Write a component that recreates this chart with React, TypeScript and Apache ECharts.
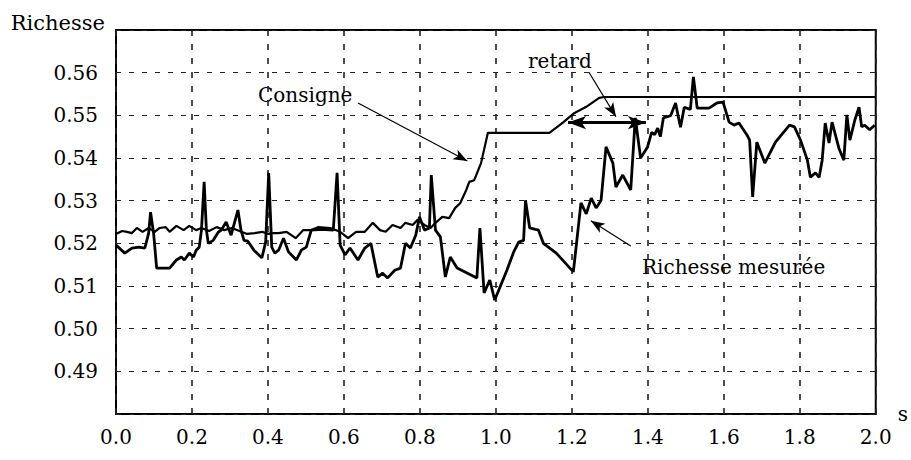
import React, { useEffect, useRef } from 'react';
import * as echarts from 'echarts';

// Measured richness (Richesse mesurée): time (s) and value
const measuredT = [
  0.000, 0.023, 0.042, 0.060, 0.076, 0.086, 0.091, 0.099, 0.107, 0.141,
  0.159, 0.172, 0.180, 0.193, 0.204, 0.211, 0.219, 0.225, 0.232, 0.238,
  0.243, 0.256, 0.269, 0.277, 0.290, 0.303, 0.321, 0.329, 0.337, 0.347,
  0.363, 0.384, 0.394, 0.402, 0.410, 0.418, 0.428, 0.441, 0.454, 0.475,
  0.488, 0.501, 0.514, 0.541, 0.572, 0.582, 0.590, 0.603, 0.616, 0.637,
  0.655, 0.671, 0.689, 0.702, 0.715, 0.734, 0.749, 0.762, 0.775, 0.789,
  0.799, 0.812, 0.825, 0.830, 0.841, 0.854, 0.867, 0.880, 0.898, 0.950,
  0.958, 0.969, 0.984, 0.997, 1.029, 1.047, 1.060, 1.073, 1.078, 1.089,
  1.112, 1.125, 1.159, 1.204, 1.224, 1.238, 1.251, 1.264, 1.277, 1.290,
  1.308, 1.316, 1.334, 1.355, 1.367, 1.381, 1.399, 1.410, 1.418, 1.426,
  1.433, 1.441, 1.460, 1.473, 1.486, 1.496, 1.512, 1.520, 1.530, 1.561,
  1.582, 1.598, 1.614, 1.627, 1.640, 1.661, 1.668, 1.676, 1.687, 1.708,
  1.736, 1.773, 1.786, 1.802, 1.820, 1.828, 1.841, 1.851, 1.859, 1.867,
  1.877, 1.885, 1.903, 1.916, 1.924, 1.932, 1.945, 1.956, 1.963, 1.971,
  1.984, 1.997,
];
const measuredV = [
  0.5196, 0.5177, 0.5189, 0.5191, 0.5189, 0.5224, 0.5273, 0.5224, 0.5142, 0.5142,
  0.5161, 0.5168, 0.5161, 0.5177, 0.5168, 0.5184, 0.5191, 0.5231, 0.5344, 0.5231,
  0.5200, 0.5207, 0.5226, 0.5231, 0.5250, 0.5219, 0.5278, 0.5231, 0.5207, 0.5205,
  0.5184, 0.5166, 0.5203, 0.5365, 0.5191, 0.5177, 0.5184, 0.5212, 0.5180, 0.5161,
  0.5184, 0.5191, 0.5231, 0.5233, 0.5231, 0.5365, 0.5196, 0.5173, 0.5189, 0.5161,
  0.5189, 0.5200, 0.5121, 0.5130, 0.5119, 0.5137, 0.5142, 0.5200, 0.5189, 0.5219,
  0.5262, 0.5231, 0.5236, 0.5360, 0.5231, 0.5215, 0.5121, 0.5168, 0.5142, 0.5119,
  0.5236, 0.5084, 0.5114, 0.5067, 0.5137, 0.5180, 0.5203, 0.5207, 0.5301, 0.5236,
  0.5231, 0.5200, 0.5177, 0.5133, 0.5295, 0.5269, 0.5306, 0.5283, 0.5301, 0.5426,
  0.5388, 0.5332, 0.5360, 0.5325, 0.5494, 0.5400, 0.5425, 0.5460, 0.5455, 0.5470,
  0.5450, 0.5494, 0.5499, 0.5529, 0.5472, 0.5519, 0.5514, 0.5590, 0.5517, 0.5517,
  0.5529, 0.5531, 0.5484, 0.5477, 0.5482, 0.5454, 0.5442, 0.5309, 0.5437, 0.5388,
  0.5437, 0.5477, 0.5473, 0.5442, 0.5395, 0.5355, 0.5365, 0.5355, 0.5395, 0.5482,
  0.5435, 0.5484, 0.5423, 0.5395, 0.5501, 0.5442, 0.5489, 0.5519, 0.5473, 0.5477,
  0.5466, 0.5477,
];

// Set point (Consigne): time (s) and value
const consigneT = [
  0.000, 0.016, 0.029, 0.042, 0.055, 0.070, 0.086, 0.102, 0.115, 0.131,
  0.141, 0.159, 0.178, 0.193, 0.211, 0.225, 0.245, 0.265, 0.285, 0.305,
  0.325, 0.345, 0.365, 0.385, 0.400, 0.415, 0.428, 0.449, 0.473, 0.493,
  0.514, 0.533, 0.564, 0.590, 0.611, 0.632, 0.655, 0.676, 0.695, 0.710,
  0.728, 0.749, 0.762, 0.781, 0.794, 0.812, 0.828, 0.841, 0.859, 0.877,
  0.893, 0.906, 0.922, 0.930, 0.943, 0.961, 0.979, 1.141, 1.178, 1.206,
  1.238, 1.272, 1.285, 2.000,
];
const consigneV = [
  0.5222, 0.5229, 0.5227, 0.5224, 0.5236, 0.5227, 0.5236, 0.5227, 0.5236, 0.5238,
  0.5227, 0.5241, 0.5231, 0.5241, 0.5231, 0.5236, 0.5229, 0.5238, 0.5231, 0.5236,
  0.5229, 0.5222, 0.5224, 0.5227, 0.5222, 0.5224, 0.5224, 0.5227, 0.5212, 0.5231,
  0.5231, 0.5238, 0.5236, 0.5227, 0.5212, 0.5227, 0.5227, 0.5248, 0.5231, 0.5227,
  0.5243, 0.5236, 0.5248, 0.5243, 0.5255, 0.5243, 0.5236, 0.5248, 0.5262, 0.5259,
  0.5283, 0.5294, 0.5325, 0.5344, 0.5348, 0.5388, 0.5459, 0.5459, 0.5484, 0.5505,
  0.5520, 0.5541, 0.5543, 0.5543,
];

const yLabelMin = 0.49;
const yLabelMax = 0.56;

export default function App() {
  const ref = useRef<HTMLDivElement>(null);
  useEffect(() => {
    if (!ref.current) return;
    const chart = echarts.init(ref.current, null, { renderer: 'svg' });
    const font = 'DejaVu Serif';
    const thin = { color: '#000', width: 1.2, type: 'solid' };
    const thick = { color: '#000', width: 3, type: 'solid' };
    const arrow = (from: number[], to: number[], both: boolean, ls: any, size: number[]) => [
      { coord: from, symbol: both ? 'arrow' : 'none', symbolSize: size, lineStyle: ls },
      { coord: to, symbol: 'arrow', symbolSize: size, lineStyle: ls },
    ];
    const txt = (text: string, left: number, top: number) => ({
      type: 'text', left, top,
      style: { text, fontFamily: font, fontSize: 20, fill: '#000' },
    });

    chart.setOption({
      animation: false,
      backgroundColor: '#fff',
      textStyle: { fontFamily: font },
      grid: {
        left: 116, right: 29, top: 30, bottom: 46,
        show: true, borderColor: '#000', borderWidth: 2, backgroundColor: 'transparent',
      },
      xAxis: {
        type: 'value', min: 0, max: 2, interval: 0.2,
        name: 's', nameLocation: 'end', nameGap: 22,
        nameTextStyle: { fontFamily: font, fontSize: 20, color: '#000', align: 'left', verticalAlign: 'middle', padding: [8, 0, 0, 0] },
        axisLine: { show: false }, axisTick: { show: false },
        axisLabel: { fontFamily: font, fontSize: 20, color: '#000', margin: 13, formatter: (v: number) => v.toFixed(1) },
        splitLine: { show: true, lineStyle: { color: '#222', width: 1.6, type: [6, 8] } },
      },
      yAxis: {
        type: 'value', min: 0.48, max: 0.57, interval: 0.01,
        name: 'Richesse', nameLocation: 'end', nameGap: 7,
        nameTextStyle: { fontFamily: font, fontSize: 21, color: '#000', align: 'right', verticalAlign: 'middle', padding: [0, 11, 0, 0] },
        axisLine: { show: false }, axisTick: { show: false },
        axisLabel: {
          fontFamily: font, fontSize: 20, color: '#000', margin: 18, padding: [0, 0, 8, 0],
          formatter: (v: number) => (v < yLabelMin - 0.001 || v > yLabelMax + 0.001 ? '' : v.toFixed(2)),
        },
        splitLine: { show: true, lineStyle: { color: '#222', width: 1.2, type: [5, 8] } },
      },
      series: [
        {
          name: 'Consigne', type: 'line', showSymbol: false, symbol: 'none',
          data: consigneT.map((t, i) => [t, consigneV[i]]),
          lineStyle: { color: '#000', width: 2.2 },
          silent: true,
        },
        {
          name: 'Richesse mesurée', type: 'line', showSymbol: false, symbol: 'none',
          data: measuredT.map((t, i) => [t, measuredV[i]]),
          lineStyle: { color: '#000', width: 2.8 },
          silent: true,
          markLine: {
            silent: true, animation: false,
            label: { show: false },
            emphasis: { disabled: true },
            data: [
              arrow([0.637, 0.5529], [0.925, 0.5393], false, thin, [8, 14]),
              arrow([1.245, 0.5601], [1.316, 0.5497], false, thin, [8, 14]),
              arrow([1.355, 0.5194], [1.250, 0.5253], false, thin, [8, 14]),
              arrow([1.19, 0.5483], [1.395, 0.5483], true, thick, [10, 18]),
            ],
          },
        },
      ],
      graphic: [
        txt('Consigne', 258, 85),
        txt('retard', 528, 51),
        txt('Richesse mesurée', 642, 257),
      ],
    });
    return () => chart.dispose();
  }, []);
  return <div ref={ref} style={{ position: 'fixed', left: 0, top: 0, width: 911, height: 460, background: '#fff' }} />;
}
